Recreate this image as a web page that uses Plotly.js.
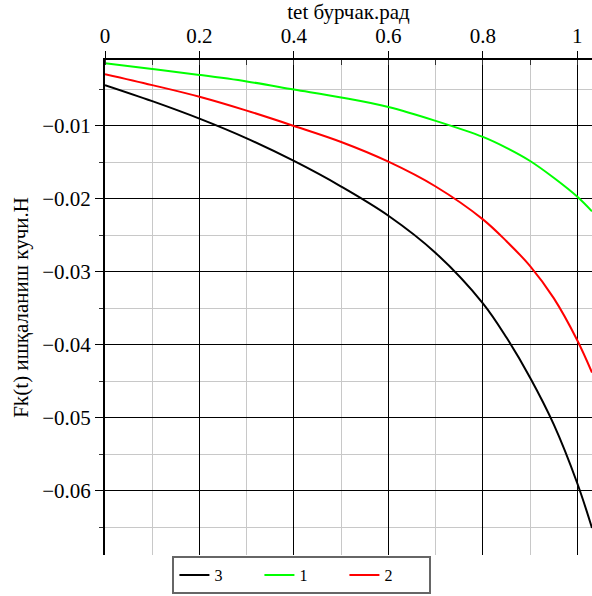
<!DOCTYPE html>
<html>
<head>
<meta charset="utf-8">
<script src="https://cdn.plot.ly/plotly-3.0.1.min.js"></script>
<style>html,body{margin:0;padding:0;background:#fff;}#chart{width:592px;height:596px;}</style>
</head>
<body>
<div id="chart"></div>
<script>
// Series (tet in rad, Fk in N)
const tet = [0, 0.1, 0.2, 0.3, 0.4, 0.5, 0.6, 0.7, 0.8, 0.85, 0.9, 0.95, 1.0, 1.031];
const series3 = [-0.0044, -0.0066, -0.0090, -0.0117, -0.0148, -0.0183, -0.0223, -0.0274, -0.0343, -0.0390, -0.0445, -0.0509, -0.0590, -0.0651];
const series1 = [-0.00141, -0.0022, -0.0030, -0.0039, -0.0050, -0.0061, -0.0074, -0.0093, -0.0115, -0.0130, -0.0148, -0.0171, -0.0197, -0.0217];
const series2 = [-0.0029, -0.0044, -0.0060, -0.0079, -0.0100, -0.0122, -0.0149, -0.0183, -0.0228, -0.0258, -0.0292, -0.0336, -0.0394, -0.0438];
const names = ["3", "1", "2"];
const colors = ["#000000", "#00ff00", "#ff0000"];
const xTicks = [0, 0.2, 0.4, 0.6, 0.8, 1];
const xTickText = ["0", "0.2", "0.4", "0.6", "0.8", "1"];
const yTicks = [-0.01, -0.02, -0.03, -0.04, -0.05, -0.06];
const yTickText = ["\u22120.01", "\u22120.02", "\u22120.03", "\u22120.04", "\u22120.05", "\u22120.06"];

const font = "'Liberation Serif', 'Times New Roman', serif";
const ys = [series3, series1, series2];
const traces = ys.map((y, i) => ({
  x: tet, y: y, name: names[i], type: "scatter", mode: "lines",
  line: {color: colors[i], width: 2, shape: "spline", smoothing: 1}
}));

const layout = {
  width: 592, height: 596,
  margin: {l: 105, r: 0, t: 60, b: 41, pad: 0},
  paper_bgcolor: "#fff", plot_bgcolor: "#fff",
  font: {family: font, color: "#000", size: 21},
  showlegend: true,
  legend: {orientation: "h", xref: "container", yref: "container",
    x: 0.51, xanchor: "center", y: 0.067, yanchor: "top",
    bordercolor: "#666", borderwidth: 2, font: {family: font, size: 16, color: "#000"},
    tracegroupgap: 0, entrywidth: 40, entrywidthmode: "pixels"},
  xaxis: {
    side: "top", range: [0, 1.031], tickvals: xTicks, ticktext: xTickText,
    showline: true, linecolor: "#000", linewidth: 2,
    ticks: "outside", ticklen: 7, tickcolor: "#000", tickwidth: 1,
    showgrid: true, gridcolor: "#000", gridwidth: 1, zeroline: false,
    minor: {dtick: 0.1, showgrid: true, gridcolor: "#c8c8c8", gridwidth: 1, ticks: "inside", ticklen: 5, tickcolor: "#333"},
    tickfont: {family: font, size: 21, color: "#000"},
    title: {text: "tet бурчак.рад", font: {family: font, size: 21, color: "#000"}, standoff: 4}
  },
  yaxis: {
    range: [-0.0688, -0.00096], tickvals: yTicks, ticktext: yTickText,
    showline: true, linecolor: "#000", linewidth: 2,
    ticks: "outside", ticklen: 8, tickcolor: "#000", tickwidth: 1,
    showgrid: true, gridcolor: "#000", gridwidth: 1, zeroline: false,
    minor: {dtick: 0.005, tick0: 0, showgrid: true, gridcolor: "#c8c8c8", gridwidth: 1, ticks: "outside", ticklen: 4, tickcolor: "#333"},
    tickfont: {family: font, size: 21, color: "#000"},
    title: {text: "Fk(t) ишқаланиш кучи.Н", font: {family: font, size: 21, color: "#000"}, standoff: 8}
  }
};
Plotly.newPlot("chart", traces, layout, {displayModeBar: false, staticPlot: true});
</script>
</body>
</html>
